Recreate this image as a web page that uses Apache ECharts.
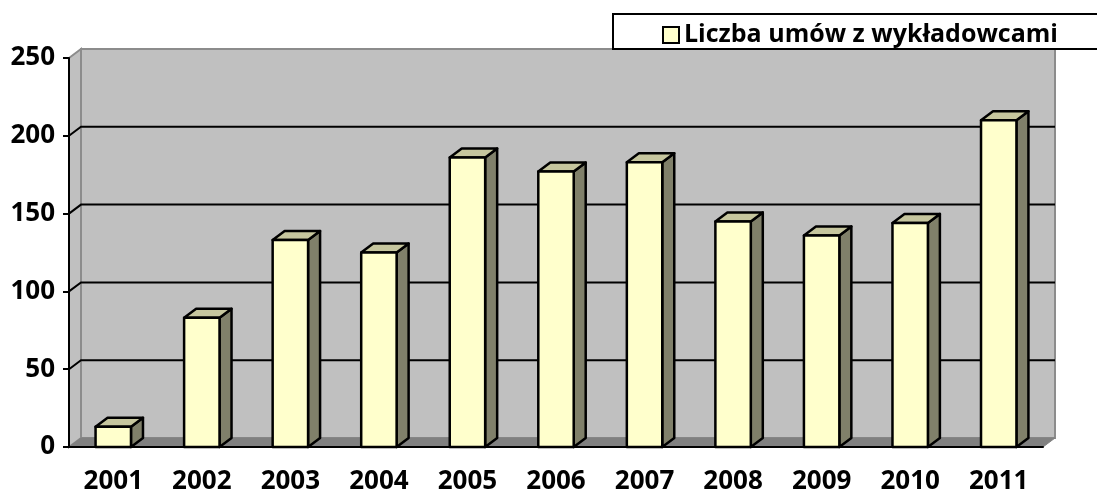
<!DOCTYPE html>
<html>
<head>
<meta charset="utf-8">
<title>Liczba umów z wykładowcami</title>
<script src="https://cdn.jsdelivr.net/npm/echarts@6/dist/echarts.min.js"></script>
<style>
  html, body { margin: 0; padding: 0; background: #fff; }
  #main { width: 1097px; height: 495px; }
</style>
</head>
<body>
<div id="main"></div>
<script>
// dane
var years = ['2001', '2002', '2003', '2004', '2005', '2006', '2007', '2008', '2009', '2010', '2011'];
var umowy = [13, 83, 133, 125, 186, 177, 183, 145, 136, 144, 210];
var yTicks = [0, 50, 100, 150, 200, 250];
var seriesName = 'Liczba umów z wykładowcami';

var DX = 12, DY = -9;   // glebokosc 3D
var FONT = '"Open Sans", "DejaVu Sans", sans-serif';

var chart = echarts.init(document.getElementById('main'));

// sciany + linie siatki (tylna sciana przesunieta o DX/DY)
var renderWalls = function (params, api) {
  var p0 = api.coord([0, 0]);
  var x0 = p0[0] - api.size([1, 0])[0] / 2;
  var x1 = x0 + api.size([1, 0])[0] * years.length;
  var yb = p0[1];
  var yt = api.coord([0, yTicks[yTicks.length - 1]])[1];
  var kids = [];
  // tylna sciana
  kids.push({ type: 'polygon', shape: { points: [[x0 + DX, yt + DY], [x1 + DX, yt + DY], [x1 + DX, yb + DY], [x0 + DX, yb + DY]] },
    style: { fill: '#c0c0c0', stroke: '#8c8c8c', lineWidth: 2 } });
  // lewa sciana
  kids.push({ type: 'polygon', shape: { points: [[x0, yt], [x0 + DX, yt + DY], [x0 + DX, yb + DY], [x0, yb]] },
    style: { fill: '#c0c0c0', stroke: '#8c8c8c', lineWidth: 2 } });
  // podloga
  kids.push({ type: 'polygon', shape: { points: [[x0, yb], [x0 + DX, yb + DY], [x1 + DX, yb + DY], [x1, yb]] },
    style: { fill: '#808080', stroke: '#808080', lineWidth: 1 } });
  for (var i = 1; i < yTicks.length - 1; i++) {
    var y = api.coord([0, yTicks[i]])[1];
    kids.push({ type: 'polyline', shape: { points: [[x0, y], [x0 + DX, y + DY], [x1 + DX, y + DY]] },
      style: { stroke: '#000', lineWidth: 2, fill: null } });
  }
  return { type: 'group', children: kids, silent: true };
};

// slupki 3D
var renderBar = function (params, api) {
  var idx = api.value(0);
  var top = api.coord([idx, api.value(1)]);
  var bot = api.coord([idx, 0]);
  var w = api.size([1, 0])[0] * 0.4;
  var l = top[0] - w / 2, r = top[0] + w / 2;
  var t = top[1], b = bot[1];
  var st = { stroke: '#000', lineWidth: 2.5, lineJoin: 'round' };
  return {
    type: 'group',
    children: [
      { type: 'polygon', shape: { points: [[r, t], [r + DX, t + DY], [r + DX, b + DY], [r, b]] },
        style: Object.assign({ fill: '#80806a' }, st) },
      { type: 'polygon', shape: { points: [[l, t], [l + DX, t + DY], [r + DX, t + DY], [r, t]] },
        style: Object.assign({ fill: '#c6c69e' }, st) },
      { type: 'rect', shape: { x: l, y: t, width: w, height: b - t },
        style: Object.assign({ fill: '#ffffcc' }, st) }
    ]
  };
};

var barData = umowy.map(function (v, i) { return [i, v]; });

var option = {
  animation: false,
  grid: { left: 69, right: 54, top: 58, bottom: 48 },
  legend: {
    data: [{ name: seriesName, icon: 'rect' }],
    left: 613, top: 14,
    padding: [8, 80, 1, 49],
    itemWidth: 16, itemHeight: 16,
    borderColor: '#000', borderWidth: 2,
    backgroundColor: '#fff',
    textStyle: { fontFamily: FONT, fontWeight: 'bold', fontSize: 25, lineHeight: 26, color: '#000' }
  },
  xAxis: {
    type: 'category',
    data: years,
    boundaryGap: true,
    axisLine: { lineStyle: { color: '#000', width: 2 } },
    axisTick: { length: 7, lineStyle: { color: '#000', width: 2 } },
    axisLabel: { margin: 22, fontFamily: FONT, fontWeight: 'bold', fontSize: 26, color: '#000' },
    splitLine: { show: false }
  },
  yAxis: {
    type: 'value',
    min: 0, max: 250, interval: 50,
    axisLine: { show: true, lineStyle: { color: '#000', width: 2 } },
    axisTick: { show: true, length: 6, lineStyle: { color: '#000', width: 2 } },
    axisLabel: { margin: 14, fontFamily: FONT, fontWeight: 'bold', fontSize: 26, color: '#000' },
    splitLine: { show: false }
  },
  series: [
    {
      type: 'custom',
      name: 'walls',
      renderItem: renderWalls,
      data: [[0, 0]],
      z: 0,
      silent: true
    },
    {
      type: 'custom',
      name: seriesName,
      renderItem: renderBar,
      data: barData,
      encode: { x: 0, y: 1 },
      itemStyle: { color: '#ffffcc', borderColor: '#000', borderWidth: 2 },
      z: 2
    }
  ]
};

chart.setOption(option);
</script>
</body>
</html>
